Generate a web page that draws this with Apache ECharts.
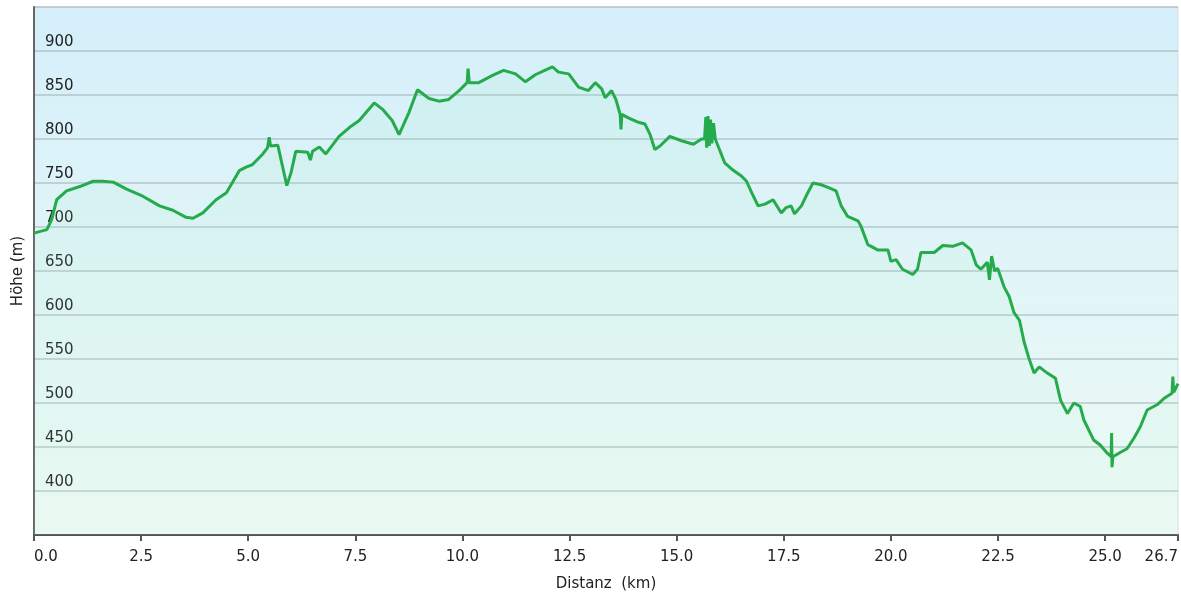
<!DOCTYPE html>
<html>
<head>
<meta charset="utf-8">
<script src="https://cdn.jsdelivr.net/npm/echarts@6/dist/echarts.min.js"></script>
<style>
  html, body { margin: 0; padding: 0; background: #fff; }
  #profileChart { width: 1181px; height: 598px; }
</style>
</head>
<body>
<div id="profileChart"></div>
<script>
// Distanz (km) und Höhe (m)
var distKm = [
  0.0, 0.15, 0.3, 0.41, 0.53, 0.76, 1.07, 1.38, 1.6, 1.85, 2.16, 2.54, 2.93, 3.24, 3.55, 3.71, 3.94, 4.25, 4.49, 4.6,
  4.79, 4.95, 5.1, 5.34, 5.45, 5.49, 5.52, 5.69, 5.8, 5.9, 6.0, 6.11, 6.39, 6.45, 6.5, 6.66, 6.81, 7.12, 7.36, 7.59,
  7.94, 8.13, 8.36, 8.52, 8.75, 8.95, 9.22, 9.45, 9.68, 9.92, 10.11, 10.13, 10.16, 10.38, 10.69, 10.96, 11.24, 11.47, 11.7, 11.97,
  12.1, 12.24, 12.48, 12.71, 12.94, 13.1, 13.25, 13.33, 13.48, 13.58, 13.68, 13.7, 13.72, 13.87, 14.11, 14.26, 14.38, 14.49, 14.61, 14.84,
  15.11, 15.39, 15.58, 15.65, 15.68, 15.7, 15.73, 15.76, 15.79, 15.82, 15.86, 15.9, 15.93, 16.12, 16.28, 16.51, 16.63, 16.75, 16.9, 17.06,
  17.25, 17.44, 17.55, 17.67, 17.75, 17.91, 18.06, 18.18, 18.37, 18.53, 18.72, 18.84, 18.99, 19.23, 19.3, 19.46, 19.69, 19.93, 20.0, 20.12,
  20.27, 20.51, 20.62, 20.7, 21.01, 21.21, 21.44, 21.67, 21.87, 21.99, 22.1, 22.25, 22.3, 22.35, 22.42, 22.49, 22.64, 22.76, 22.87, 23.0,
  23.11, 23.22, 23.34, 23.46, 23.65, 23.84, 23.96, 24.12, 24.27, 24.42, 24.5, 24.73, 24.89, 25.05, 25.14, 25.15, 25.16, 25.18, 25.36, 25.51,
  25.67, 25.82, 25.98, 26.21, 26.37, 26.56, 26.58, 26.6, 26.7
];
var heightM = [
  693, 695, 697, 708, 731, 741, 746, 752, 752, 751, 743, 735, 724, 719, 711, 710, 716, 731, 739, 748,
  764, 768, 771, 783, 790, 802, 792, 793, 769, 747, 762, 786, 785, 776, 786, 791, 783, 803, 813, 821,
  841, 834, 821, 805, 830, 856, 846, 843, 845, 855, 864, 880, 864, 864, 872, 878, 874, 865, 873, 879,
  882, 876, 874, 859, 855, 864, 857, 847, 855, 845, 828, 811, 828, 824, 819, 817, 805, 788, 792, 803,
  798, 794, 800, 800, 825, 790, 826, 792, 822, 795, 818, 800, 800, 773, 766, 758, 752, 739, 724, 726,
  731, 716, 722, 724, 715, 724, 739, 750, 748, 745, 741, 724, 712, 707, 701, 680, 674, 674, 661, 663,
  652, 646, 652, 671, 671, 679, 678, 682, 674, 657, 652, 660, 640, 667, 650, 653, 632, 621, 603, 594,
  569, 551, 534, 541, 534, 528, 503, 488, 500, 496, 481, 458, 452, 443, 439, 466, 427, 439, 444, 448,
  460, 473, 492, 498, 505, 511, 530, 512, 522
];

var seriesData = distKm.map(function (d, i) { return [d, heightM[i]]; });

var chart = echarts.init(document.getElementById('profileChart'));

var labelFont = { fontFamily: 'DejaVu Sans', fontSize: 15, color: '#222' };

var option = {
  backgroundColor: '#fff',
  animation: false,
  grid: {
    left: 34,
    right: 0,
    top: 7,
    bottom: 63,
    show: true,
    borderColor: '#dcdcdc',
    borderWidth: 1,
    backgroundColor: new echarts.graphic.LinearGradient(0, 0, 0, 1, [
      { offset: 0, color: '#d4effa' },
      { offset: 1, color: '#eefbf5' }
    ])
  },
  xAxis: {
    type: 'value',
    min: 0,
    max: 26.7,
    interval: 2.5,
    name: 'Distanz  (km)',
    nameLocation: 'middle',
    nameGap: 42,
    nameTextStyle: labelFont,
    axisLine: { show: true, lineStyle: { color: '#555', width: 2 } },
    axisTick: { show: true, length: 6, lineStyle: { color: '#555', width: 2 } },
    axisLabel: {
      fontFamily: 'DejaVu Sans',
      fontSize: 15,
      color: '#222',
      margin: 15,
      alignMinLabel: 'left',
      alignMaxLabel: 'right',
      formatter: function (v) { return v.toFixed(1); }
    },
    splitLine: { show: false }
  },
  yAxis: {
    type: 'value',
    min: 350,
    max: 950,
    interval: 50,
    name: 'Höhe (m)',
    nameLocation: 'middle',
    nameGap: 3,
    nameTextStyle: labelFont,
    axisLine: { show: true, lineStyle: { color: '#666', width: 2 } },
    axisTick: { show: false },
    axisLabel: {
      inside: true,
      showMinLabel: false,
      showMaxLabel: false,
      fontFamily: 'DejaVu Sans',
      fontSize: 15,
      color: '#222',
      margin: 11,
      verticalAlign: 'bottom',
      padding: [0, 0, 1, 0]
    },
    splitLine: { show: true, lineStyle: { color: 'rgba(160,175,180,0.5)', width: 2 } }
  },
  series: [
    {
      type: 'line',
      data: seriesData,
      showSymbol: false,
      symbol: 'none',
      lineStyle: { color: '#25ab4b', width: 3 },
      areaStyle: {
        color: new echarts.graphic.LinearGradient(0, 0, 0, 1, [
          { offset: 0, color: 'rgba(150,230,190,0.18)' },
          { offset: 1, color: 'rgba(180,240,205,0.12)' }
        ])
      }
    }
  ]
};

chart.setOption(option);
window.addEventListener('resize', function () {
  chart.resize();
});
</script>
</body>
</html>
